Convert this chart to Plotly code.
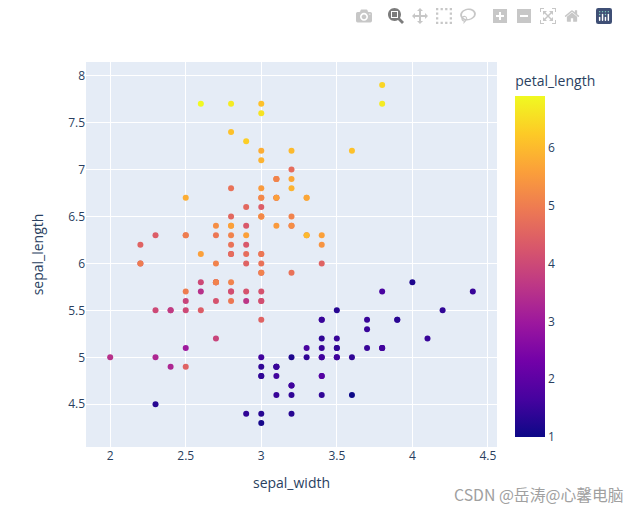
import plotly.graph_objects as go

sepal_length = [
    5.1, 4.9, 4.7, 4.6, 5.0, 5.4, 4.6, 5.0, 4.4, 4.9, 5.4, 4.8, 4.8, 4.3, 5.8, 5.7, 5.4, 5.1, 5.7, 5.1, 5.4, 5.1, 4.6, 5.1, 4.8,
    5.0, 5.0, 5.2, 5.2, 4.7, 4.8, 5.4, 5.2, 5.5, 4.9, 5.0, 5.5, 4.9, 4.4, 5.1, 5.0, 4.5, 4.4, 5.0, 5.1, 4.8, 5.1, 4.6, 5.3, 5.0,
    7.0, 6.4, 6.9, 5.5, 6.5, 5.7, 6.3, 4.9, 6.6, 5.2, 5.0, 5.9, 6.0, 6.1, 5.6, 6.7, 5.6, 5.8, 6.2, 5.6, 5.9, 6.1, 6.3, 6.1, 6.4,
    6.6, 6.8, 6.7, 6.0, 5.7, 5.5, 5.5, 5.8, 6.0, 5.4, 6.0, 6.7, 6.3, 5.6, 5.5, 5.5, 6.1, 5.8, 5.0, 5.6, 5.7, 5.7, 6.2, 5.1, 5.7,
    6.3, 5.8, 7.1, 6.3, 6.5, 7.6, 4.9, 7.3, 6.7, 7.2, 6.5, 6.4, 6.8, 5.7, 5.8, 6.4, 6.5, 7.7, 7.7, 6.0, 6.9, 5.6, 7.7, 6.3, 6.7,
    7.2, 6.2, 6.1, 6.4, 7.2, 7.4, 7.9, 6.4, 6.3, 6.1, 7.7, 6.3, 6.4, 6.0, 6.9, 6.7, 6.9, 5.8, 6.8, 6.7, 6.7, 6.3, 6.5, 6.2, 5.9,
]
sepal_width = [
    3.5, 3.0, 3.2, 3.1, 3.6, 3.9, 3.4, 3.4, 2.9, 3.1, 3.7, 3.4, 3.0, 3.0, 4.0, 4.4, 3.9, 3.5, 3.8, 3.8, 3.4, 3.7, 3.6, 3.3, 3.4,
    3.0, 3.4, 3.5, 3.4, 3.2, 3.1, 3.4, 4.1, 4.2, 3.1, 3.2, 3.5, 3.1, 3.0, 3.4, 3.5, 2.3, 3.2, 3.5, 3.8, 3.0, 3.8, 3.2, 3.7, 3.3,
    3.2, 3.2, 3.1, 2.3, 2.8, 2.8, 3.3, 2.4, 2.9, 2.7, 2.0, 3.0, 2.2, 2.9, 2.9, 3.1, 3.0, 2.7, 2.2, 2.5, 3.2, 2.8, 2.5, 2.8, 2.9,
    3.0, 2.8, 3.0, 2.9, 2.6, 2.4, 2.4, 2.7, 2.7, 3.0, 3.4, 3.1, 2.3, 3.0, 2.5, 2.6, 3.0, 2.6, 2.3, 2.7, 3.0, 2.9, 2.9, 2.5, 2.8,
    3.3, 2.7, 3.0, 2.9, 3.0, 3.0, 2.5, 2.9, 2.5, 3.6, 3.2, 2.7, 3.0, 2.5, 2.8, 3.2, 3.0, 3.8, 2.6, 2.2, 3.2, 2.8, 2.8, 2.7, 3.3,
    3.2, 2.8, 3.0, 2.8, 3.0, 2.8, 3.8, 2.8, 2.8, 2.6, 3.0, 3.4, 3.1, 3.0, 3.1, 3.1, 3.1, 2.7, 3.2, 3.3, 3.0, 2.5, 3.0, 3.4, 3.0,
]
petal_length = [
    1.4, 1.4, 1.3, 1.5, 1.4, 1.7, 1.4, 1.5, 1.4, 1.5, 1.5, 1.6, 1.4, 1.1, 1.2, 1.5, 1.3, 1.4, 1.7, 1.5, 1.7, 1.5, 1.0, 1.7, 1.9,
    1.6, 1.6, 1.5, 1.4, 1.6, 1.6, 1.5, 1.5, 1.4, 1.5, 1.2, 1.3, 1.5, 1.3, 1.5, 1.3, 1.3, 1.3, 1.6, 1.9, 1.4, 1.6, 1.4, 1.5, 1.4,
    4.7, 4.5, 4.9, 4.0, 4.6, 4.5, 4.7, 3.3, 4.6, 3.9, 3.5, 4.2, 4.0, 4.7, 3.6, 4.4, 4.5, 4.1, 4.5, 3.9, 4.8, 4.0, 4.9, 4.7, 4.3,
    4.4, 4.8, 5.0, 4.5, 3.5, 3.8, 3.7, 3.9, 5.1, 4.5, 4.5, 4.7, 4.4, 4.1, 4.0, 4.4, 4.6, 4.0, 3.3, 4.2, 4.2, 4.2, 4.3, 3.0, 4.1,
    6.0, 5.1, 5.9, 5.6, 5.8, 6.6, 4.5, 6.3, 5.8, 6.1, 5.1, 5.3, 5.5, 5.0, 5.1, 5.3, 5.5, 6.7, 6.9, 5.0, 5.7, 4.9, 6.7, 4.9, 5.7,
    6.0, 4.8, 4.9, 5.6, 5.8, 6.1, 6.4, 5.6, 5.1, 5.6, 6.1, 5.6, 5.5, 4.8, 5.4, 5.6, 5.1, 5.1, 5.9, 5.7, 5.2, 5.0, 5.2, 5.4, 5.1,
]
color_ticks = [1, 2, 3, 4, 5, 6]

fig = go.Figure(
    data=[
        go.Scatter(
            x=sepal_width,
            y=sepal_length,
            mode="markers",
            marker=dict(color=petal_length, coloraxis="coloraxis", size=6),
        )
    ]
)

fig.update_layout(
    template="plotly",
    width=629,
    height=505,
    margin=dict(l=78, r=140, t=54, b=66),
    xaxis=dict(title="sepal_width", range=[1.84, 4.56]),
    yaxis=dict(title=dict(text="sepal_length", standoff=21), range=[4.045, 8.145]),
    coloraxis=dict(
        colorscale="Plasma",
        colorbar=dict(title="petal_length", tickvals=color_ticks),
    ),
    annotations=[
        dict(
            text="CSDN @岳涛@心馨电脑",
            xref="paper",
            yref="paper",
            x=1.3139,
            y=-0.1245,
            xanchor="right",
            yanchor="middle",
            showarrow=False,
            font=dict(family="Noto Sans CJK SC", size=15.8, color="#a0a0a0"),
        )
    ],
)

# modebar sits a bit further left and up in the screenshot, with the older logo colours
modebar_fix = """
var gd = document.getElementById('{plot_id}');
gd.querySelector('.modebar-container').style.transform = 'translate(-19px,-5px)';
gd.querySelectorAll('.modebar-btn--logo svg *').forEach(function (e) {
    var fill = getComputedStyle(e).fill;
    if (fill === 'rgb(0, 0, 0)' && e.tagName === 'rect') { e.style.fill = '#3f4f75'; }
    else if (fill !== 'rgb(255, 255, 255)') { e.style.fill = '#80cfbe'; }
});
"""

fig.write_html("out.html", config=dict(displayModeBar=True), post_script=modebar_fix)
